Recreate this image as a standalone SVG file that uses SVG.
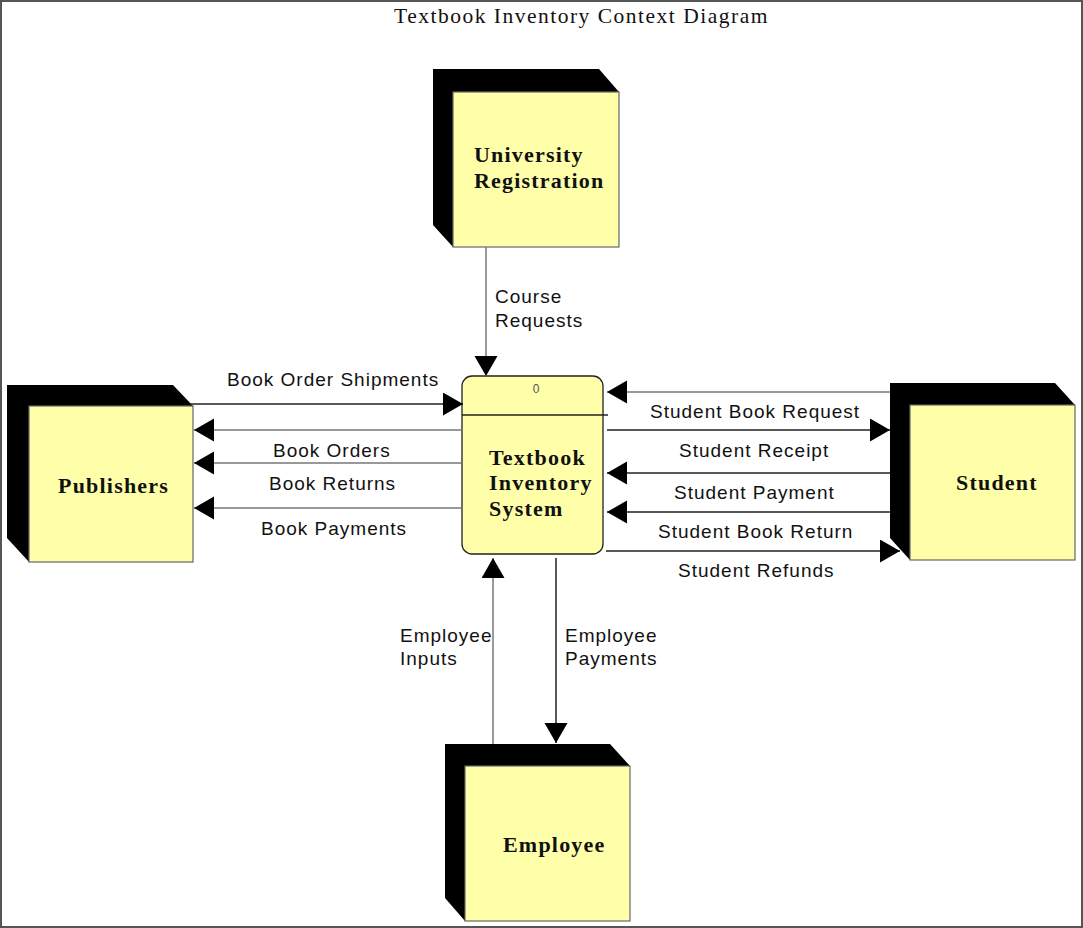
<svg xmlns="http://www.w3.org/2000/svg" width="1083" height="928" viewBox="0 0 1083 928">
  <style>
    .frame { fill: #ffffff; stroke: #555555; stroke-width: 2; }
    .title { font-family: "Liberation Serif", "Times New Roman", serif; font-size: 21.5px; letter-spacing: 1.5px; fill: #111111; }
    .shade { fill: #000000; }
    .face { fill: #ffffaa; stroke: #666666; stroke-width: 1.2; }
    .proc { fill: #ffffaa; stroke: #222222; stroke-width: 1.3; }
    .ename { font-family: "Liberation Serif", "Times New Roman", serif; font-size: 22px; font-weight: bold; letter-spacing: 1.2px; fill: #111111; }
    .pid { font-family: "Liberation Sans", Arial, sans-serif; font-size: 12px; fill: #555555; }
    .flow { fill: none; stroke-width: 1.5; }
    .g { stroke: #777777; }
    .d { stroke: #222222; }
    .lbl { font-family: "Liberation Sans", Arial, sans-serif; font-size: 19px; letter-spacing: 1px; fill: #111111; }
  </style>
  <defs>
    <marker id="head" markerUnits="userSpaceOnUse" markerWidth="22" markerHeight="24" refX="20" refY="11.5" orient="auto">
      <path d="M0,0 L20,11.5 L0,23 Z" fill="#000000"/>
    </marker>
  </defs>

  <rect class="frame" x="1" y="1" width="1081" height="926"/>
  <text class="title" x="394" y="23">Textbook Inventory Context Diagram</text>

  <!-- external entities -->
  <g id="university-registration">
    <polygon class="shade" points="433,69 599,69 619,92 619,247 453,247 433,225"/>
    <rect class="face" x="453" y="92" width="166" height="155"/>
    <text class="ename" x="474" y="162">University</text>
    <text class="ename" x="474" y="188">Registration</text>
  </g>

  <g id="publishers">
    <polygon class="shade" points="7,385 173,385 193,406 193,562 29,562 7,538"/>
    <rect class="face" x="29" y="406" width="164" height="156"/>
    <text class="ename" x="58" y="493">Publishers</text>
  </g>

  <g id="student">
    <polygon class="shade" points="890,383 1055,383 1075,405 1075,560 910,560 890,538"/>
    <rect class="face" x="910" y="405" width="165" height="155"/>
    <text class="ename" x="956" y="490">Student</text>
  </g>

  <g id="employee">
    <polygon class="shade" points="445,744 610,744 630,766 630,921 465,921 445,898"/>
    <rect class="face" x="465" y="766" width="165" height="155"/>
    <text class="ename" x="503" y="852">Employee</text>
  </g>

  <!-- process 0 -->
  <g id="textbook-inventory-system">
    <rect class="proc" x="462" y="376" width="141" height="178" rx="10" ry="10"/>
    <line x1="462" y1="415" x2="608" y2="415" stroke="#222222" stroke-width="1.3"/>
    <text class="pid" x="536" y="393" text-anchor="middle">0</text>
    <text class="ename" x="489" y="465">Textbook</text>
    <text class="ename" x="489" y="490">Inventory</text>
    <text class="ename" x="489" y="516">System</text>
  </g>

  <!-- data flows -->
  <g id="connectors">
    <path class="flow g" d="M486,247 V376" marker-end="url(#head)"/>
    <path class="flow d" d="M190,404 H463" marker-end="url(#head)"/>
    <path class="flow g" d="M462,430 H194" marker-end="url(#head)"/>
    <path class="flow g" d="M462,463 H194" marker-end="url(#head)"/>
    <path class="flow g" d="M462,508 H194" marker-end="url(#head)"/>
    <path class="flow g" d="M890,392 H607" marker-end="url(#head)"/>
    <path class="flow d" d="M607,430 H890" marker-end="url(#head)"/>
    <path class="flow d" d="M890,473 H607" marker-end="url(#head)"/>
    <path class="flow d" d="M890,512 H607" marker-end="url(#head)"/>
    <path class="flow d" d="M606,551 H900" marker-end="url(#head)"/>
    <path class="flow g" d="M493,744 V558" marker-end="url(#head)"/>
    <path class="flow d" d="M556,558 V743" marker-end="url(#head)"/>
  </g>

  <g id="flow-labels">
    <text class="lbl" x="495" y="303">Course</text>
    <text class="lbl" x="495" y="327">Requests</text>
    <text class="lbl" x="227" y="386">Book Order Shipments</text>
    <text class="lbl" x="273" y="457">Book Orders</text>
    <text class="lbl" x="269" y="490">Book Returns</text>
    <text class="lbl" x="261" y="535">Book Payments</text>
    <text class="lbl" x="650" y="418">Student Book Request</text>
    <text class="lbl" x="679" y="457">Student Receipt</text>
    <text class="lbl" x="674" y="499">Student Payment</text>
    <text class="lbl" x="658" y="538">Student Book Return</text>
    <text class="lbl" x="678" y="577">Student Refunds</text>
    <text class="lbl" x="400" y="642">Employee</text>
    <text class="lbl" x="400" y="665">Inputs</text>
    <text class="lbl" x="565" y="642">Employee</text>
    <text class="lbl" x="565" y="665">Payments</text>
  </g>
</svg>
